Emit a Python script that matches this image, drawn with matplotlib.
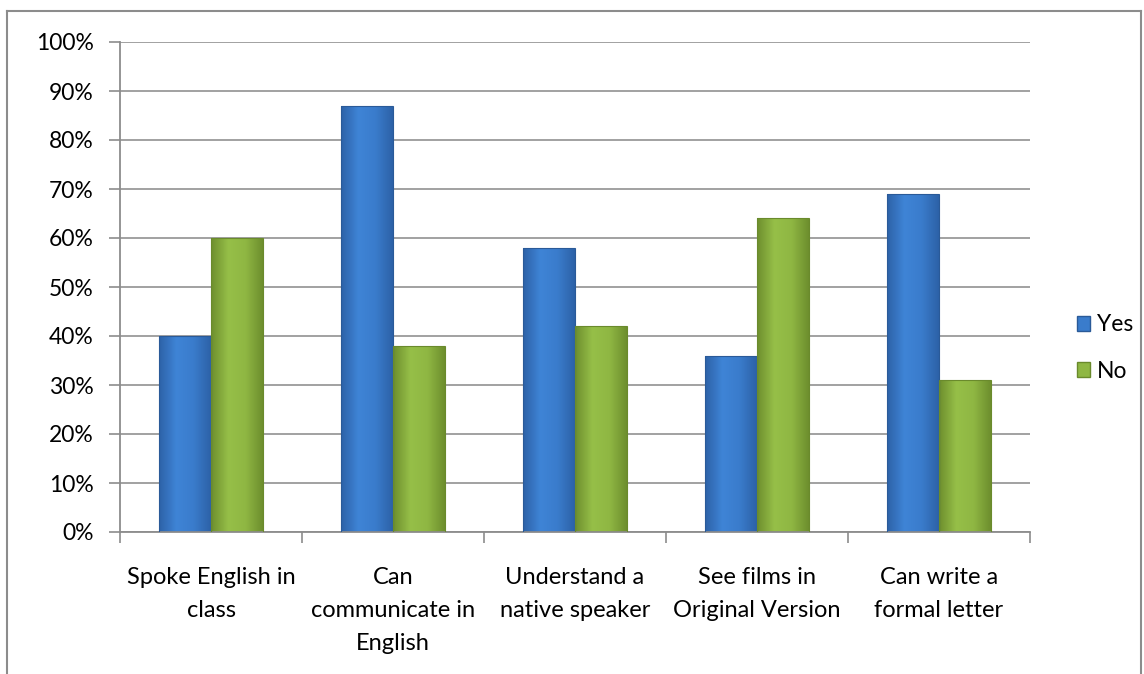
import numpy as np
import matplotlib.pyplot as plt
from matplotlib.colors import LinearSegmentedColormap
from matplotlib.patches import Patch

# data
categories = ["Spoke English in\nclass", "Can\ncommunicate in\nEnglish",
              "Understand a\nnative speaker", "See films in\nOriginal Version",
              "Can write a\nformal letter"]
yes_vals = [40, 87, 58, 36, 69]
no_vals = [60, 38, 42, 64, 31]
y_ticks = [0, 10, 20, 30, 40, 50, 60, 70, 80, 90, 100]

plt.rcParams['font.family'] = ['Lato', 'DejaVu Sans']
fs = 17

fig = plt.figure(figsize=(11.44, 6.74), dpi=100)
ax = fig.add_axes([120/1144, 1 - 532/674, 910/1144, 490/674])

x = np.arange(len(categories))
w = 0.285

blue_cmap = LinearSegmentedColormap.from_list('b', ['#2d62a8', '#3f84d6', '#3a7ccc', '#2d62a8'])
green_cmap = LinearSegmentedColormap.from_list('g', ['#6e8f2e', '#96bf48', '#8fb743', '#6e8f2e'])
grad = np.linspace(0, 1, 64).reshape(1, -1)


def gradient_bars(xs, vals, cmap, edge):
    bars = ax.bar(xs, vals, w, color='none', edgecolor=edge, linewidth=0.8, zorder=3)
    for b in bars:
        bx, by = b.get_x(), b.get_y()
        im = ax.imshow(grad, cmap=cmap, aspect='auto', zorder=2.5,
                       extent=[bx, bx + b.get_width(), by, by + b.get_height()])
        im.set_clip_path(b)
    return bars


gradient_bars(x - w/2, yes_vals, blue_cmap, '#2a5a98')
gradient_bars(x + w/2, no_vals, green_cmap, '#6a8a2c')

ax.set_xlim(-0.5, len(categories) - 0.5)
ax.set_ylim(0, 100)
ax.set_yticks(y_ticks)
ax.set_yticklabels([f"{t}%" for t in y_ticks], fontsize=16.5)
ax.yaxis.grid(True, color='#9a9a9a', linewidth=1.3, zorder=0)
ax.set_axisbelow(True)

ax.set_xticks(x)
ax.set_xticklabels(categories, fontsize=fs, linespacing=1.7)
ax.tick_params(axis='x', length=0, pad=25)
ax.set_xticks(np.arange(len(categories) + 1) - 0.5, minor=True)
ax.tick_params(axis='x', which='minor', length=8, color='#8c8c8c', width=1.2)
ax.tick_params(axis='y', length=8, color='#8c8c8c', width=1.2, pad=11)

for s in ['top', 'right']:
    ax.spines[s].set_visible(False)
for s in ['left', 'bottom']:
    ax.spines[s].set_color('#8c8c8c')
    ax.spines[s].set_linewidth(1.3)

# legend
handles = [Patch(facecolor='#3a7ccc', edgecolor='#2a5a98', label='Yes'),
           Patch(facecolor='#8fb743', edgecolor='#6a8a2c', label='No')]
fig.legend(handles=handles, loc='center left', bbox_to_anchor=(1056/1144, 1 - 348/674),
           frameon=False, fontsize=16.5, handlelength=0.6, handleheight=0.6,
           handletextpad=0.3, labelspacing=1.1)

# outer chart border
fig.add_artist(plt.Line2D([7/1144, 7/1144], [0, 1 - 11/674], color='#8c8c8c', lw=1.5))
fig.add_artist(plt.Line2D([7/1144, 1141/1144], [1 - 11/674, 1 - 11/674], color='#8c8c8c', lw=1.5))
fig.add_artist(plt.Line2D([1141/1144, 1141/1144], [0, 1 - 11/674], color='#8c8c8c', lw=1.5))

plt.savefig('out.png', dpi=100)
